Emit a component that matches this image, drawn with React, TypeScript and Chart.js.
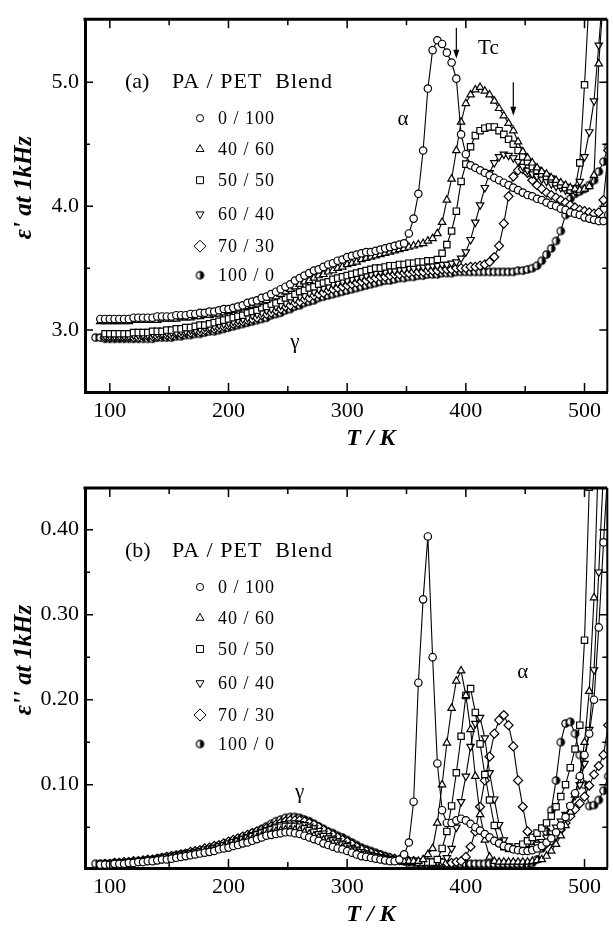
import React, { useEffect, useRef } from 'react';
import { Chart, registerables } from 'chart.js';
import { drawPoint } from 'chart.js/helpers';
Chart.register(...registerables);

// Temperature grid (K)
const T_K = [
  88, 92, 96, 100, 104, 108, 112, 116, 120, 124,
  128, 132, 136, 140, 144, 148, 152, 156, 160, 164,
  168, 172, 176, 180, 184, 188, 192, 196, 200, 204,
  208, 212, 216, 220, 224, 228, 232, 236, 240, 244,
  248, 252, 256, 260, 264, 268, 272, 276, 280, 284,
  288, 292, 296, 300, 304, 308, 312, 316, 320, 324,
  328, 332, 336, 340, 344, 348, 352, 356, 360, 364,
  368, 372, 376, 380, 384, 388, 392, 396, 400, 404,
  408, 412, 416, 420, 424, 428, 432, 436, 440, 444,
  448, 452, 456, 460, 464, 468, 472, 476, 480, 484,
  488, 492, 496, 500, 504, 508, 512, 516, 520,
];

const SERIES_NAMES = ['0 / 100', '40 / 60', '50 / 50', '60 / 40', '70 / 30', '100 / 0'];

// ---- (a) eps' at 1 kHz ----
const EPS1_0_100 = [
  null, 3.09, 3.09, 3.09, 3.09, 3.09, 3.09, 3.09, 3.10, 3.10,
  3.10, 3.10, 3.10, 3.11, 3.11, 3.11, 3.11, 3.12, 3.12, 3.12,
  3.13, 3.13, 3.14, 3.14, 3.15, 3.15, 3.16, 3.17, 3.17, 3.18,
  3.19, 3.20, 3.22, 3.23, 3.24, 3.26, 3.27, 3.29, 3.31, 3.33,
  3.35, 3.37, 3.40, 3.42, 3.44, 3.46, 3.48, 3.49, 3.51, 3.53,
  3.54, 3.56, 3.57, 3.59, 3.60, 3.61, 3.62, 3.63, 3.63, 3.64,
  3.65, 3.66, 3.67, 3.68, 3.69, 3.70, 3.78, 3.90, 4.10, 4.45,
  4.95, 5.26, 5.34, 5.31, 5.24, 5.16, 5.03, 4.58, 4.42, 4.33,
  4.31, 4.29, 4.27, 4.25, 4.23, 4.21, 4.19, 4.17, 4.15, 4.13,
  4.11, 4.09, 4.08, 4.06, 4.05, 4.03, 4.01, 4.00, 3.98, 3.97,
  3.95, 3.94, 3.93, 3.91, 3.90, 3.89, 3.88, 3.88, 3.93,
];
const EPS1_40_60 = [
  null, 3.07, 3.07, 3.07, 3.07, 3.07, 3.07, 3.07, 3.08, 3.08,
  3.08, 3.08, 3.08, 3.08, 3.09, 3.09, 3.09, 3.09, 3.10, 3.10,
  3.10, 3.11, 3.11, 3.12, 3.12, 3.13, 3.13, 3.14, 3.15, 3.16,
  3.17, 3.18, 3.19, 3.20, 3.21, 3.23, 3.24, 3.26, 3.27, 3.29,
  3.31, 3.33, 3.35, 3.37, 3.39, 3.40, 3.42, 3.44, 3.45, 3.47,
  3.48, 3.50, 3.51, 3.53, 3.54, 3.55, 3.57, 3.58, 3.59, 3.60,
  3.61, 3.62, 3.63, 3.64, 3.65, 3.66, 3.67, 3.68, 3.69, 3.70,
  3.72, 3.74, 3.78, 3.87, 4.05, 4.22, 4.45, 4.68, 4.83, 4.90,
  4.94, 4.96, 4.93, 4.90, 4.85, 4.79, 4.73, 4.67, 4.61, 4.52,
  4.44, 4.39, 4.35, 4.31, 4.28, 4.26, 4.23, 4.21, 4.19, 4.17,
  4.15, 4.14, 4.13, 4.14, 4.16, 4.25, 5.15, 5.70, null,
];
const EPS1_50_50 = [
  null, null, 2.97, 2.97, 2.97, 2.97, 2.97, 2.97, 2.98, 2.98,
  2.98, 2.98, 2.99, 2.99, 2.99, 3.00, 3.00, 3.01, 3.01, 3.02,
  3.02, 3.03, 3.04, 3.04, 3.05, 3.06, 3.07, 3.08, 3.09, 3.10,
  3.11, 3.12, 3.14, 3.15, 3.16, 3.18, 3.19, 3.21, 3.22, 3.24,
  3.26, 3.27, 3.29, 3.31, 3.32, 3.34, 3.35, 3.37, 3.38, 3.39,
  3.41, 3.42, 3.43, 3.44, 3.45, 3.46, 3.47, 3.48, 3.49, 3.50,
  3.50, 3.51, 3.52, 3.52, 3.53, 3.53, 3.54, 3.54, 3.55, 3.55,
  3.56, 3.56, 3.57, 3.62, 3.69, 3.80, 3.96, 4.20, 4.34, 4.48,
  4.57, 4.61, 4.63, 4.64, 4.64, 4.61, 4.58, 4.54, 4.50, 4.45,
  4.40, 4.36, 4.32, 4.29, 4.26, 4.24, 4.22, 4.19, 4.17, 4.15,
  4.13, 4.14, 4.35, 4.98, 5.70, null, null, null, null,
];
const EPS1_60_40 = [
  null, null, 2.95, 2.95, 2.95, 2.95, 2.95, 2.95, 2.96, 2.96,
  2.96, 2.96, 2.97, 2.97, 2.97, 2.98, 2.98, 2.98, 2.99, 2.99,
  3.00, 3.00, 3.01, 3.02, 3.02, 3.03, 3.04, 3.05, 3.06, 3.07,
  3.08, 3.09, 3.10, 3.12, 3.13, 3.14, 3.16, 3.17, 3.19, 3.20,
  3.22, 3.24, 3.25, 3.27, 3.28, 3.30, 3.31, 3.33, 3.34, 3.35,
  3.37, 3.38, 3.39, 3.40, 3.41, 3.42, 3.43, 3.44, 3.45, 3.46,
  3.47, 3.47, 3.48, 3.48, 3.49, 3.49, 3.50, 3.50, 3.51, 3.51,
  3.51, 3.52, 3.52, 3.53, 3.53, 3.54, 3.55, 3.58, 3.63, 3.73,
  3.87, 4.01, 4.15, 4.27, 4.35, 4.40, 4.42, 4.41, 4.39, 4.36,
  4.32, 4.29, 4.26, 4.24, 4.22, 4.20, 4.18, 4.16, 4.15, 4.13,
  4.12, 4.12, 4.20, 4.40, 4.60, 4.85, 5.30, 5.80, null,
];
const EPS1_70_30 = [
  null, null, 2.94, 2.94, 2.94, 2.94, 2.94, 2.94, 2.94, 2.94,
  2.95, 2.95, 2.95, 2.95, 2.96, 2.96, 2.96, 2.97, 2.97, 2.98,
  2.98, 2.99, 2.99, 3.00, 3.01, 3.01, 3.02, 3.03, 3.04, 3.05,
  3.06, 3.07, 3.08, 3.09, 3.10, 3.12, 3.13, 3.14, 3.16, 3.17,
  3.19, 3.20, 3.22, 3.23, 3.25, 3.26, 3.28, 3.29, 3.30, 3.32,
  3.33, 3.34, 3.35, 3.36, 3.37, 3.38, 3.39, 3.40, 3.41, 3.42,
  3.43, 3.43, 3.44, 3.45, 3.45, 3.46, 3.46, 3.47, 3.47, 3.47,
  3.48, 3.48, 3.48, 3.49, 3.49, 3.49, 3.50, 3.50, 3.50, 3.51,
  3.51, 3.52, 3.53, 3.55, 3.59, 3.68, 3.86, 4.08, 4.24, 4.29,
  4.30, 4.27, 4.21, 4.17, 4.14, 4.11, 4.09, 4.07, 4.05, 4.03,
  4.01, 3.99, 3.97, 3.96, 3.95, 3.94, 3.95, 4.05, 4.45,
];
const EPS1_100_0 = [
  2.94, 2.94, 2.93, 2.93, 2.93, 2.93, 2.93, 2.93, 2.93, 2.93,
  2.93, 2.93, 2.93, 2.94, 2.94, 2.94, 2.94, 2.95, 2.95, 2.96,
  2.96, 2.97, 2.97, 2.98, 2.99, 2.99, 3.00, 3.01, 3.02, 3.03,
  3.04, 3.05, 3.06, 3.07, 3.08, 3.09, 3.10, 3.12, 3.13, 3.14,
  3.16, 3.17, 3.19, 3.20, 3.22, 3.23, 3.24, 3.26, 3.27, 3.28,
  3.29, 3.30, 3.31, 3.32, 3.33, 3.34, 3.35, 3.36, 3.37, 3.38,
  3.39, 3.40, 3.40, 3.41, 3.42, 3.42, 3.43, 3.43, 3.44, 3.44,
  3.45, 3.45, 3.45, 3.46, 3.46, 3.46, 3.47, 3.47, 3.47, 3.47,
  3.47, 3.47, 3.47, 3.47, 3.47, 3.47, 3.47, 3.47, 3.47, 3.48,
  3.48, 3.49, 3.50, 3.52, 3.56, 3.61, 3.66, 3.72, 3.80, 3.93,
  4.06, 4.10, 4.12, 4.14, 4.17, 4.21, 4.28, 4.36, 4.48,
];

// ---- (b) eps'' at 1 kHz ----
const EPS2_0_100 = [
  null, 0.006, 0.006, 0.006, 0.007, 0.007, 0.007, 0.008, 0.008, 0.009,
  0.009, 0.010, 0.010, 0.011, 0.012, 0.012, 0.013, 0.014, 0.015, 0.016,
  0.017, 0.018, 0.019, 0.020, 0.021, 0.022, 0.024, 0.025, 0.026, 0.028,
  0.029, 0.031, 0.032, 0.034, 0.036, 0.038, 0.040, 0.041, 0.042, 0.043,
  0.044, 0.044, 0.043, 0.042, 0.040, 0.038, 0.036, 0.034, 0.031, 0.029,
  0.027, 0.025, 0.024, 0.022, 0.020, 0.018, 0.016, 0.015, 0.014, 0.013,
  0.012, 0.011, 0.010, 0.010, 0.012, 0.018, 0.032, 0.080, 0.220, 0.318,
  0.392, 0.250, 0.125, 0.070, 0.055, 0.055, 0.058, 0.060, 0.058, 0.054,
  0.050, 0.046, 0.042, 0.038, 0.034, 0.031, 0.028, 0.026, 0.024, 0.023,
  0.022, 0.022, 0.023, 0.025, 0.028, 0.032, 0.037, 0.044, 0.052, 0.062,
  0.075, 0.090, 0.110, 0.135, 0.160, 0.200, 0.285, 0.385, 0.480,
];
const EPS2_40_60 = [
  null, 0.006, 0.006, 0.006, 0.007, 0.007, 0.008, 0.008, 0.009, 0.009,
  0.010, 0.010, 0.011, 0.012, 0.013, 0.013, 0.014, 0.015, 0.016, 0.017,
  0.018, 0.019, 0.020, 0.021, 0.023, 0.024, 0.025, 0.027, 0.028, 0.030,
  0.031, 0.033, 0.035, 0.036, 0.038, 0.040, 0.042, 0.043, 0.045, 0.046,
  0.047, 0.047, 0.047, 0.046, 0.044, 0.042, 0.040, 0.038, 0.035, 0.033,
  0.031, 0.028, 0.026, 0.024, 0.022, 0.020, 0.018, 0.017, 0.015, 0.014,
  0.013, 0.012, 0.011, 0.011, 0.010, 0.010, 0.010, 0.010, 0.010, 0.012,
  0.018, 0.025, 0.055, 0.100, 0.149, 0.190, 0.222, 0.234, 0.205, 0.165,
  0.110, 0.065, 0.035, 0.015, 0.010, 0.009, 0.009, 0.009, 0.009, 0.009,
  0.009, 0.009, 0.010, 0.011, 0.012, 0.016, 0.022, 0.030, 0.040, 0.052,
  0.068, 0.088, 0.110, 0.150, 0.210, 0.320, 0.500, null, null,
];
const EPS2_50_50 = [
  null, null, 0.006, 0.006, 0.007, 0.007, 0.008, 0.008, 0.009, 0.009,
  0.010, 0.011, 0.011, 0.012, 0.013, 0.014, 0.015, 0.016, 0.017, 0.018,
  0.019, 0.020, 0.021, 0.023, 0.024, 0.025, 0.027, 0.028, 0.030, 0.032,
  0.033, 0.035, 0.037, 0.039, 0.041, 0.043, 0.045, 0.047, 0.049, 0.050,
  0.051, 0.051, 0.051, 0.050, 0.048, 0.046, 0.044, 0.041, 0.039, 0.036,
  0.034, 0.031, 0.029, 0.027, 0.024, 0.022, 0.020, 0.018, 0.016, 0.015,
  0.014, 0.013, 0.012, 0.011, 0.011, 0.010, 0.010, 0.010, 0.009, 0.009,
  0.009, 0.009, 0.012, 0.025, 0.045, 0.075, 0.114, 0.157, 0.205, 0.213,
  0.185, 0.148, 0.112, 0.082, 0.052, 0.032, 0.027, 0.025, 0.025, 0.027,
  0.030, 0.034, 0.038, 0.043, 0.049, 0.055, 0.063, 0.074, 0.086, 0.100,
  0.120, 0.142, 0.170, 0.270, 0.450, null, null, null, null,
];
const EPS2_60_40 = [
  null, null, 0.007, 0.007, 0.007, 0.008, 0.008, 0.009, 0.009, 0.010,
  0.010, 0.011, 0.012, 0.013, 0.013, 0.014, 0.015, 0.016, 0.017, 0.018,
  0.020, 0.021, 0.022, 0.023, 0.025, 0.026, 0.028, 0.029, 0.031, 0.033,
  0.035, 0.037, 0.039, 0.041, 0.043, 0.045, 0.047, 0.049, 0.051, 0.053,
  0.054, 0.055, 0.055, 0.054, 0.053, 0.051, 0.049, 0.046, 0.043, 0.040,
  0.037, 0.034, 0.031, 0.029, 0.026, 0.024, 0.021, 0.019, 0.018, 0.016,
  0.015, 0.014, 0.013, 0.012, 0.011, 0.011, 0.010, 0.010, 0.009, 0.009,
  0.009, 0.009, 0.009, 0.010, 0.014, 0.025, 0.050, 0.080, 0.110, 0.145,
  0.172, 0.179, 0.155, 0.114, 0.083, 0.053, 0.035, 0.028, 0.025, 0.024,
  0.024, 0.025, 0.027, 0.030, 0.033, 0.038, 0.043, 0.050, 0.057, 0.065,
  0.075, 0.087, 0.100, 0.125, 0.165, 0.235, 0.350, 0.470, null,
];
const EPS2_70_30 = [
  null, null, 0.007, 0.007, 0.008, 0.008, 0.009, 0.009, 0.010, 0.010,
  0.011, 0.012, 0.012, 0.013, 0.014, 0.015, 0.016, 0.017, 0.018, 0.019,
  0.021, 0.022, 0.023, 0.025, 0.026, 0.028, 0.029, 0.031, 0.033, 0.035,
  0.037, 0.039, 0.041, 0.043, 0.045, 0.047, 0.049, 0.051, 0.053, 0.055,
  0.057, 0.058, 0.058, 0.058, 0.057, 0.055, 0.053, 0.050, 0.047, 0.044,
  0.041, 0.038, 0.035, 0.033, 0.030, 0.027, 0.024, 0.022, 0.020, 0.018,
  0.017, 0.015, 0.014, 0.013, 0.012, 0.011, 0.010, 0.010, 0.009, 0.009,
  0.009, 0.008, 0.008, 0.008, 0.008, 0.008, 0.009, 0.010, 0.015, 0.027,
  0.045, 0.074, 0.105, 0.133, 0.160, 0.176, 0.182, 0.170, 0.145, 0.105,
  0.074, 0.045, 0.033, 0.030, 0.030, 0.031, 0.034, 0.040, 0.047, 0.055,
  0.063, 0.071, 0.078, 0.086, 0.099, 0.112, 0.122, 0.135, 0.170,
];
const EPS2_100_0 = [
  0.007, 0.007, 0.007, 0.007, 0.008, 0.008, 0.008, 0.009, 0.009, 0.010,
  0.010, 0.011, 0.012, 0.013, 0.014, 0.015, 0.016, 0.017, 0.018, 0.019,
  0.020, 0.021, 0.022, 0.024, 0.025, 0.027, 0.028, 0.030, 0.032, 0.034,
  0.036, 0.038, 0.040, 0.043, 0.045, 0.048, 0.051, 0.054, 0.057, 0.059,
  0.061, 0.062, 0.062, 0.061, 0.059, 0.057, 0.054, 0.051, 0.048, 0.045,
  0.043, 0.040, 0.038, 0.035, 0.032, 0.029, 0.026, 0.024, 0.022, 0.020,
  0.018, 0.016, 0.014, 0.012, 0.011, 0.010, 0.009, 0.008, 0.008, 0.007,
  0.007, 0.007, 0.007, 0.007, 0.007, 0.007, 0.007, 0.007, 0.007, 0.007,
  0.007, 0.007, 0.007, 0.007, 0.007, 0.007, 0.007, 0.007, 0.007, 0.007,
  0.007, 0.007, 0.008, 0.012, 0.025, 0.045, 0.070, 0.105, 0.150, 0.172,
  0.174, 0.160, 0.135, 0.100, 0.075, 0.076, 0.082, 0.093, 0.110,
];

// Axis ticks
const T_TICKS = [100, 200, 300, 400, 500];
const T_MINOR = [100, 150, 200, 250, 300, 350, 400, 450, 500];
const EPS1_TICKS = [3.0, 4.0, 5.0];
const EPS1_MINOR = [3.0, 3.5, 4.0, 4.5, 5.0];
const EPS2_TICKS = [0.1, 0.2, 0.3, 0.4];
const EPS2_MINOR = [0.05, 0.1, 0.15, 0.2, 0.25, 0.3, 0.35, 0.4];

const SERIF = '"Liberation Serif", "Times New Roman", serif';

type Marker = { pointStyle: any; radius: number; rotation: number; legendRadius: number };

function makeHalfCircle(r: number): HTMLCanvasElement {
  const s = Math.ceil(2 * r + 3);
  const c = document.createElement('canvas');
  c.width = s; c.height = s;
  const g = c.getContext('2d')!;
  const m = s / 2;
  g.beginPath(); g.arc(m, m, r, 0, Math.PI * 2); g.fillStyle = '#fff'; g.fill();
  g.beginPath(); g.moveTo(m, m - r); g.arc(m, m, r, -Math.PI / 2, Math.PI / 2); g.closePath();
  g.fillStyle = '#000'; g.fill();
  g.beginPath(); g.arc(m, m, r, 0, Math.PI * 2); g.lineWidth = 1.2; g.strokeStyle = '#000'; g.stroke();
  return c;
}

function markers(): Marker[] {
  return [
    { pointStyle: 'circle', radius: 3.7, rotation: 0, legendRadius: 3.6 },
    { pointStyle: 'triangle', radius: 4.3, rotation: 0, legendRadius: 4.6 },
    { pointStyle: 'rect', radius: 4.5, rotation: 0, legendRadius: 4.9 },
    { pointStyle: 'triangle', radius: 4.3, rotation: 180, legendRadius: 4.6 },
    { pointStyle: 'rectRot', radius: 4.5, rotation: 0, legendRadius: 6 },
    { pointStyle: makeHalfCircle(3.7), radius: 3.7, rotation: 0, legendRadius: 4 },
  ];
}

type PanelCfg = {
  panel: string;
  yTitle: string;
  series: (number | null)[][];
  yMin: number; yMax: number;
  yTicks: number[]; yMinor: number[]; yDigits: number;
  padTop: number; xHeight: number;
  labels: { text: string; t: number; v: number }[];
  arrows: { t: number; v0: number; v1: number }[];
};

function decorPlugin(cfg: PanelCfg, mk: Marker[]) {
  return {
    id: 'decor',
    afterDraw(chart: any) {
      const { ctx, chartArea: a } = chart;
      const xs = chart.scales.x, ys = chart.scales.y;
      ctx.save();
      ctx.strokeStyle = '#000';
      ctx.fillStyle = '#000';
      // top & right frame
      ctx.lineWidth = 3;
      ctx.beginPath(); ctx.moveTo(a.left - 1.5, a.top); ctx.lineTo(a.right, a.top); ctx.stroke();
      ctx.lineWidth = 2;
      ctx.beginPath(); ctx.moveTo(a.right, a.top); ctx.lineTo(a.right, a.bottom); ctx.stroke();
      // inward ticks
      ctx.lineWidth = 1.5;
      T_MINOR.forEach((v) => {
        const px = xs.getPixelForValue(v);
        const len = T_TICKS.includes(v) ? 9 : 6;
        ctx.beginPath();
        ctx.moveTo(px, a.bottom); ctx.lineTo(px, a.bottom - len);
        ctx.moveTo(px, a.top); ctx.lineTo(px, a.top + len);
        ctx.stroke();
      });
      cfg.yMinor.forEach((v) => {
        const py = ys.getPixelForValue(v);
        const major = cfg.yTicks.some((t) => Math.abs(t - v) < 1e-9);
        const len = major ? 8 : 5;
        ctx.beginPath();
        ctx.moveTo(a.left, py); ctx.lineTo(a.left + len, py);
        ctx.moveTo(a.right, py); ctx.lineTo(a.right - len, py);
        ctx.stroke();
      });
      // panel title
      ctx.textBaseline = 'middle';
      ctx.textAlign = 'left';
      ctx.font = `22px ${SERIF}`;
      ctx.fillText(cfg.panel, a.left + 40, a.top + 63);
      ctx.letterSpacing = '1px';
      ctx.fillText('PA / PET  Blend', a.left + 87, a.top + 63);
      // legend
      const rows = [99, 130, 161, 195, 227, 256];
      ctx.font = `18px ${SERIF}`;
      SERIES_NAMES.forEach((name, i) => {
        const m = mk[i];
        ctx.fillStyle = '#fff';
        ctx.strokeStyle = '#000';
        ctx.lineWidth = 1;
        drawPoint(ctx, { pointStyle: m.pointStyle, rotation: m.rotation, radius: m.legendRadius, borderWidth: 1 } as any, a.left + 115, a.top + rows[i]);
        ctx.fillStyle = '#000';
        ctx.fillText(name, a.left + 133, a.top + rows[i] + 1);
      });
      ctx.letterSpacing = '0px';
      // annotations
      ctx.font = `21px ${SERIF}`;
      ctx.textAlign = 'center';
      cfg.labels.forEach((l) => {
        ctx.fillText(l.text, xs.getPixelForValue(l.t), ys.getPixelForValue(l.v));
      });
      ctx.lineWidth = 1.2;
      cfg.arrows.forEach((ar) => {
        const x = xs.getPixelForValue(ar.t);
        const y0 = ys.getPixelForValue(ar.v0);
        const y1 = ys.getPixelForValue(ar.v1);
        ctx.beginPath(); ctx.moveTo(x, y0); ctx.lineTo(x, y1 - 5); ctx.stroke();
        ctx.beginPath(); ctx.moveTo(x, y1); ctx.lineTo(x - 3, y1 - 9); ctx.lineTo(x + 3, y1 - 9); ctx.closePath(); ctx.fill();
      });
      // axis titles
      ctx.font = `bold italic 24px ${SERIF}`;
      ctx.textAlign = 'center';
      ctx.fillText('T / K', xs.getPixelForValue(320), a.bottom + 47);
      ctx.save();
      ctx.translate(25, (a.top + a.bottom) / 2 - 18);
      ctx.rotate(-Math.PI / 2);
      ctx.font = `bold italic 25px ${SERIF}`;
      ctx.fillText(cfg.yTitle, 0, 0);
      ctx.restore();
      ctx.restore();
    },
  };
}

function buildChart(canvas: HTMLCanvasElement, cfg: PanelCfg) {
  const mk = markers();
  const datasets = cfg.series.map((arr, i) => ({
    label: SERIES_NAMES[i],
    data: T_K.map((t, j) => ({ x: t, y: arr[j] })),
    borderColor: '#000',
    borderWidth: 1.1,
    backgroundColor: '#fff',
    pointStyle: mk[i].pointStyle,
    pointRadius: mk[i].radius,
    pointRotation: mk[i].rotation,
    pointBackgroundColor: '#fff',
    pointBorderColor: '#000',
    pointBorderWidth: 1.2,
    tension: 0,
    fill: false,
    spanGaps: false,
  }));
  return new Chart(canvas, {
    type: 'line',
    data: { datasets },
    options: {
      animation: false,
      responsive: false,
      events: [],
      layout: { padding: { top: cfg.padTop, right: 1, left: 0, bottom: 0 } },
      plugins: { legend: { display: false }, tooltip: { enabled: false }, title: { display: false } },
      scales: {
        x: {
          type: 'linear',
          min: 79.1,
          max: 519.2,
          grid: { display: false, drawTicks: false },
          border: { display: true, width: 3, color: '#000' },
          afterBuildTicks: (s: any) => { s.ticks = T_TICKS.map((v) => ({ value: v })); },
          afterFit: (s: any) => { s.height = cfg.xHeight; },
          ticks: {
            color: '#000',
            padding: 6,
            maxRotation: 0,
            autoSkip: false,
            font: { family: SERIF, size: 22 },
            callback: (v: any) => String(v),
          },
        },
        y: {
          type: 'linear',
          min: cfg.yMin,
          max: cfg.yMax,
          grid: { display: false, drawTicks: false },
          border: { display: true, width: 3, color: '#000' },
          afterBuildTicks: (s: any) => { s.ticks = cfg.yTicks.map((v) => ({ value: v })); },
          afterFit: (s: any) => { s.width = 85; },
          ticks: {
            color: '#000',
            padding: 6,
            autoSkip: false,
            font: { family: SERIF, size: 22 },
            callback: (v: any) => Number(v).toFixed(cfg.yDigits),
          },
        },
      },
    },
    plugins: [decorPlugin(cfg, mk)],
  } as any);
}

const TOP_CFG: PanelCfg = {
  panel: '(a)',
  yTitle: "ε' at 1kHz",
  series: [EPS1_0_100, EPS1_40_60, EPS1_50_50, EPS1_60_40, EPS1_70_30, EPS1_100_0],
  yMin: 2.5, yMax: 5.51,
  yTicks: EPS1_TICKS, yMinor: EPS1_MINOR, yDigits: 1,
  padTop: 13, xHeight: 72,
  labels: [
    { text: 'α', t: 347, v: 4.7 },
    { text: 'Tc', t: 419, v: 5.27 },
    { text: 'γ', t: 256, v: 2.9 },
  ],
  arrows: [
    { t: 392, v0: 5.44, v1: 5.19 },
    { t: 440, v0: 5.0, v1: 4.73 },
  ],
};

const BOT_CFG: PanelCfg = {
  panel: '(b)',
  yTitle: "ε'' at 1kHz",
  series: [EPS2_0_100, EPS2_40_60, EPS2_50_50, EPS2_60_40, EPS2_70_30, EPS2_100_0],
  yMin: 0.002, yMax: 0.449,
  yTicks: EPS2_TICKS, yMinor: EPS2_MINOR, yDigits: 2,
  padTop: 24, xHeight: 60,
  labels: [
    { text: 'γ', t: 260, v: 0.091 },
    { text: 'α', t: 448, v: 0.232 },
  ],
  arrows: [],
};

export default function App() {
  const topRef = useRef<HTMLCanvasElement>(null);
  const botRef = useRef<HTMLCanvasElement>(null);
  useEffect(() => {
    const c1 = buildChart(topRef.current!, TOP_CFG);
    const c2 = buildChart(botRef.current!, BOT_CFG);
    return () => { c1.destroy(); c2.destroy(); };
  }, []);
  return (
    <div style={{ position: 'fixed', left: 0, top: 0, width: 613, height: 928, background: '#fff', overflow: 'hidden' }}>
      <canvas ref={topRef} width={613} height={464} style={{ position: 'absolute', left: 0, top: 0, width: 613, height: 464 }} />
      <canvas ref={botRef} width={613} height={464} style={{ position: 'absolute', left: 0, top: 464, width: 613, height: 464 }} />
    </div>
  );
}
